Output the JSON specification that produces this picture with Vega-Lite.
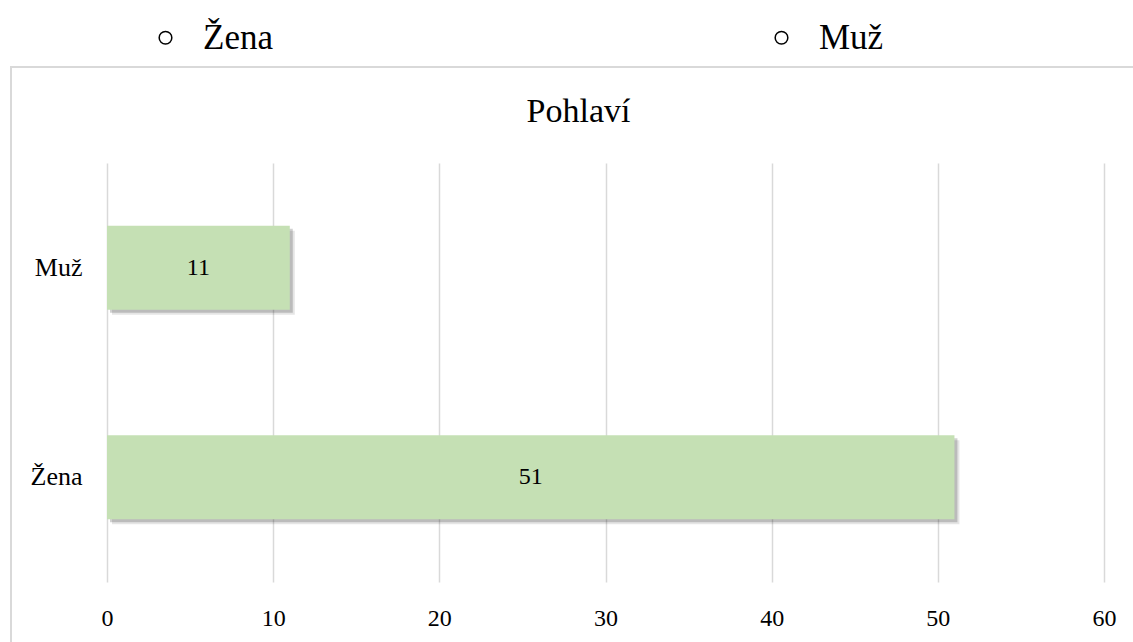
{
  "$schema": "https://vega.github.io/schema/vega-lite/v6.json",
  "autosize": "none",
  "width": 1134,
  "height": 611,
  "padding": {"left": 11, "top": 67, "right": 0, "bottom": 0},
  "background": "white",
  "data": {"values": [
    {"pohlavi": "Muž", "pocet": 11},
    {"pohlavi": "Žena", "pocet": 51}
  ]},
  "encoding": {
    "y": {
      "field": "pohlavi",
      "type": "nominal",
      "sort": ["Muž", "Žena"],
      "scale": {"range": [96, 515], "paddingInner": 0.6, "paddingOuter": 0.3},
      "axis": {
        "title": "Pohlaví",
        "titleAngle": 0,
        "titleX": 471,
        "titleY": 54,
        "titleAlign": "center",
        "titleBaseline": "alphabetic",
        "titleFont": "Liberation Serif",
        "titleFontSize": 34,
        "titleFontWeight": "normal",
        "titleColor": "#000000",
        "offset": -96,
        "labelPadding": 25,
        "ticks": false,
        "domain": false,
        "grid": false,
        "labelFont": "Liberation Serif",
        "labelFontSize": 26,
        "labelColor": "#000000"
      }
    },
    "x": {
      "field": "pocet",
      "type": "quantitative",
      "scale": {"domain": [0, 60], "range": [96, 1093], "nice": false, "zero": true},
      "axis": {
        "title": null,
        "orient": "bottom",
        "offset": -74,
        "values": [0, 10, 20, 30, 40, 50, 60],
        "grid": true,
        "gridColor": "#d9d9d9",
        "gridWidth": 1.5,
        "ticks": false,
        "domain": false,
        "labelFlush": false,
        "labelOverlap": false,
        "labelPadding": 2,
        "labelFont": "Liberation Serif",
        "labelFontSize": 24,
        "labelColor": "#000000"
      }
    }
  },
  "layer": [
    {"mark": {"type": "bar", "color": "#000000", "opacity": 0.1, "xOffset": 5, "yOffset": 5}},
    {"mark": {"type": "bar", "color": "#000000", "opacity": 0.18, "xOffset": 3, "yOffset": 3}},
    {"mark": {"type": "bar", "color": "#c5e0b4"}},
    {
      "mark": {"type": "point", "filled": false, "color": "#000000", "opacity": 0, "strokeWidth": 1.5},
      "encoding": {
        "shape": {
          "field": "pohlavi",
          "type": "nominal",
          "scale": {"domain": ["Žena", "Muž"], "range": ["circle", "circle"]},
          "legend": {
            "orient": "none",
            "legendX": 137,
            "legendY": -47,
            "direction": "horizontal",
            "columns": 2,
            "title": null,
            "symbolSize": 160,
            "symbolStrokeWidth": 1.5,
            "symbolStrokeColor": "#000000",
            "symbolFillColor": "transparent",
            "symbolOpacity": 1,
            "labelFont": "Liberation Serif",
            "labelFontSize": 35,
            "labelColor": "#000000",
            "labelOffset": 20,
            "labelLimit": 300,
            "columnPadding": 491,
            "padding": 0
          }
        }
      }
    },
    {
      "transform": [{"calculate": "datum.pocet / 2", "as": "stred"}],
      "mark": {"type": "text", "align": "center", "baseline": "middle", "font": "Liberation Serif", "fontSize": 24, "color": "#000000"},
      "encoding": {
        "x": {"field": "stred", "type": "quantitative"},
        "text": {"field": "pocet", "type": "quantitative"}
      }
    }
  ],
  "config": {
    "view": {"stroke": "#d9d9d9", "strokeWidth": 2}
  }
}
